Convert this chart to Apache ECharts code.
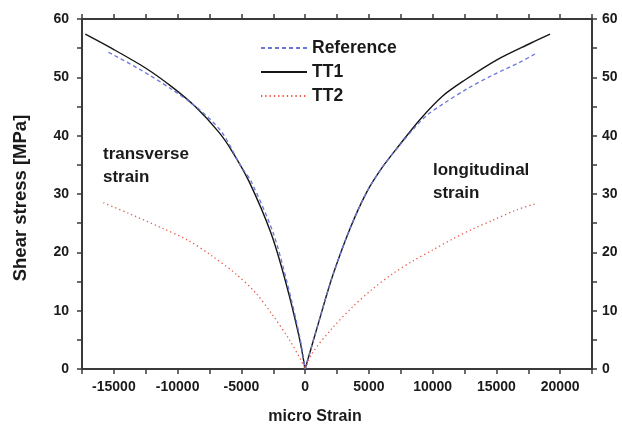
<!DOCTYPE html>
<html>
<head>
<meta charset="utf-8">
<script src="https://cdn.jsdelivr.net/npm/echarts@6/dist/echarts.min.js"></script>
<style>
  html, body { margin: 0; padding: 0; background: #fff; }
  #chart { width: 622px; height: 428px; }
</style>
</head>
<body>
<div id="chart"></div>
<script>
// Shear stress vs. micro strain: transverse strain (negative) and longitudinal strain (positive)
const referenceStrain = [-15430, -13000, -10500, -8300, -6500, -5100, -4200, -2500, -1400, -420, 0,
  1100, 2130, 3470, 4800, 6060, 7400, 8600, 9600, 10790, 12680, 14720, 16850, 18190];
const referenceStress = [54.3, 51.4, 48.0, 44.5, 40.5, 35.0, 32.0, 23.3, 14.7, 5.5, 0,
  8.3, 15.8, 23.8, 30.2, 34.6, 38.3, 41.4, 43.6, 45.4, 48.0, 50.4, 52.6, 54.2];

const tt1Strain = [-17240, -15200, -12520, -10470, -8580, -6770, -5750, -4410, -2680, -1500, -470, 0,
  1100, 2130, 3470, 4800, 6060, 7400, 8980, 10790, 12500, 15040, 17640, 19210];
const tt1Stress = [57.4, 55.0, 51.6, 48.4, 44.9, 40.6, 37.4, 32.2, 23.3, 14.7, 5.5, 0,
  8.3, 15.8, 23.8, 30.2, 34.6, 38.4, 42.7, 46.8, 49.5, 53.0, 55.8, 57.4];

const tt2Strain = [-15830, -13860, -11260, -9130, -7320, -5430, -3860, -2600, -1260, -320, 0,
  550, 2130, 3700, 5280, 6850, 8430, 10000, 11580, 13150, 14720, 16610, 18030];
const tt2Stress = [28.5, 26.7, 24.2, 22.0, 19.4, 16.3, 13.0, 9.4, 5.1, 1.5, 0,
  2.7, 7.0, 10.6, 13.7, 16.3, 18.5, 20.4, 22.3, 24.0, 25.5, 27.3, 28.3];

const seriesNames = ['Reference', 'TT1', 'TT2'];
const yTicks = [0, 10, 20, 30, 40, 50, 60];

// Each curve has a cusp at the origin, so the transverse (x <= 0) and
// longitudinal (x >= 0) branches are smoothed separately.
const pair = (xs, ys) => xs.map((x, i) => [x, ys[i]]);
const transverse = pts => pts.filter(p => p[0] <= 0);
const longitudinal = pts => pts.filter(p => p[0] >= 0);

const FONT = '"Liberation Sans", Arial, sans-serif';
const AXIS_COLOR = '#3a3a3a';
const TEXT_COLOR = '#1a1a1a';

const axisLineStyle = { onZero: false, lineStyle: { color: AXIS_COLOR, width: 2 } };
const tickStyle = { show: true, inside: false, length: 5, lineStyle: { color: AXIS_COLOR, width: 1.5 } };
const labelStyle = { color: TEXT_COLOR, fontFamily: FONT, fontWeight: 'bold', fontSize: 14 };
const yLabel = v => (yTicks.includes(v) ? String(v) : '');

const styles = {
  Reference: { color: '#6b76dc', width: 1.3, type: [4, 3], z: 3 },
  TT1: { color: '#151515', width: 1.4, type: 'solid', z: 2 },
  TT2: { color: '#ea5a48', width: 1.3, type: [1.3, 3], z: 2 }
};

const curves = {
  Reference: pair(referenceStrain, referenceStress),
  TT1: pair(tt1Strain, tt1Stress),
  TT2: pair(tt2Strain, tt2Stress)
};

const series = [];
seriesNames.forEach(name => {
  const s = styles[name];
  [transverse, longitudinal].forEach(branch => {
    series.push({
      name, type: 'line', symbol: 'none', smooth: 0.3, z: s.z,
      data: branch(curves[name]),
      itemStyle: { color: s.color },
      lineStyle: { color: s.color, width: s.width, type: s.type }
    });
  });
});

const boldFont = size => 'bold ' + size + 'px "Liberation Sans", Arial, sans-serif';

const chart = echarts.init(document.getElementById('chart'), null, { renderer: 'canvas' });

chart.setOption({
  animation: false,
  backgroundColor: '#fff',
  grid: { left: 82, right: 30, top: 19, bottom: 59, containLabel: false },
  legend: {
    data: seriesNames,
    orient: 'vertical',
    left: 260,
    top: 39,
    padding: 0,
    itemWidth: 46,
    itemHeight: 15,
    itemGap: 6,
    itemStyle: { opacity: 0 },
    textStyle: { color: TEXT_COLOR, fontFamily: FONT, fontWeight: 'bold', fontSize: 17.5 }
  },
  xAxis: [
    {
      type: 'value', position: 'bottom', min: -17500, max: 22500, interval: 2500,
      axisLine: axisLineStyle, axisTick: tickStyle,
      axisLabel: Object.assign({ margin: 11, formatter: v => (v % 5000 === 0 ? String(v) : '') }, labelStyle),
      splitLine: { show: false }
    },
    {
      type: 'value', position: 'top', min: -17500, max: 22500, interval: 2500,
      axisLine: axisLineStyle, axisTick: tickStyle, axisLabel: { show: false }, splitLine: { show: false }
    }
  ],
  yAxis: [
    {
      type: 'value', position: 'left', min: yTicks[0], max: yTicks[yTicks.length - 1], interval: 5,
      axisLine: axisLineStyle, axisTick: tickStyle,
      axisLabel: Object.assign({ margin: 13, formatter: yLabel }, labelStyle),
      splitLine: { show: false }
    },
    {
      type: 'value', position: 'right', min: yTicks[0], max: yTicks[yTicks.length - 1], interval: 5,
      axisLine: axisLineStyle, axisTick: tickStyle,
      axisLabel: Object.assign({ margin: 10, formatter: yLabel }, labelStyle),
      splitLine: { show: false }
    }
  ],
  series,
  graphic: [
    { type: 'text', x: 21, y: 198, rotation: Math.PI / 2,
      style: { text: 'Shear stress [MPa]', fill: TEXT_COLOR, font: boldFont(18.5), textAlign: 'center', textVerticalAlign: 'middle' } },
    { type: 'text', x: 315, y: 417,
      style: { text: 'micro Strain', fill: TEXT_COLOR, font: boldFont(16), textAlign: 'center', textVerticalAlign: 'middle' } },
    { type: 'text', left: 103, top: 143, style: { text: 'transverse\nstrain', fill: TEXT_COLOR, font: boldFont(17), lineHeight: 23 } },
    { type: 'text', left: 433, top: 159, style: { text: 'longitudinal\nstrain', fill: TEXT_COLOR, font: boldFont(17), lineHeight: 23 } }
  ]
});
</script>
</body>
</html>
